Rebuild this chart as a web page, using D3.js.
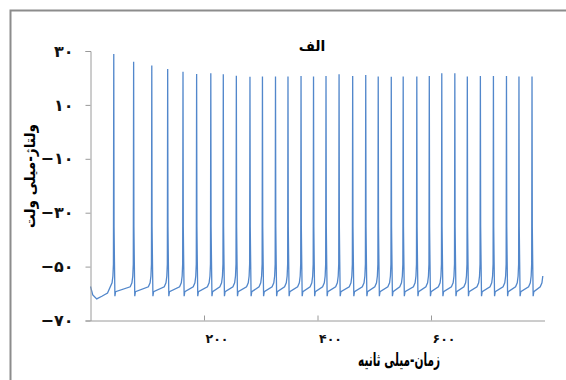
<!DOCTYPE html>
<html>
<head>
<meta charset="utf-8">
<script src="https://cdn.jsdelivr.net/npm/d3@7"></script>
<style>
  body { margin: 0; background: #fff; }
  svg { display: block; font-family: "DejaVu Sans", sans-serif; }
</style>
</head>
<body>
<svg class="chart" width="566" height="380"></svg>
<script>
// Values (time in ms, voltage in mV)
var spikeTimes = [41, 76, 108, 136, 163, 187, 212, 234, 257, 281, 303, 326, 348, 371, 393, 415,
                  438, 462, 485, 507, 530, 551, 575, 597, 619, 642, 664, 687, 710, 733, 755, 778];
var spikePeaks = [28.9, 26, 24.6, 23.3, 22.3, 21.5, 21.7, 21.4, 20.8, 20.4, 20.5, 20.5, 20.5, 20.7, 20.5, 20.7,
                  21.4, 20.7, 21.1, 20.5, 20.4, 20.5, 20.5, 20.7, 21.7, 21.7, 20.5, 20.7, 20.7, 20.7, 20.5, 20.5];
var troughs = [-61, -61, -61, -61, -61, -61, -61, -61, -61, -61, -61, -61, -61, -61, -61, -61,
               -61, -61, -61, -61, -61, -61, -61, -61, -61, -61, -61, -61, -61, -61, -61, -61];
// trace before the first spike
var startTimes = [0, 4, 11, 20, 30];
var startVolts = [-57.4, -60.5, -62, -61, -59.8];
// shape around each spike, as offsets from the spike time
var riseOffsets = [-6, -3, -1.5, -0.6];
var riseVolts = [-57.5, -56, -53.5, -49];
var fallOffsets = [0.5, 1.2, 2, 3.2];
var fallVolts = [-35, -48, null, -59.3]; // null = the trough of that spike
var endTime = 797;

var yTicks = [-70, -50, -30, -10, 10, 30];
var yTickLabels = ["\u2212۷۰", "\u2212۵۰", "\u2212۳۰", "\u2212۱۰", "۱۰", "۳۰"];
var xTicks = [200, 400, 600];
var xTickLabels = ["۲۰۰", "۴۰۰", "۶۰۰"];

var svg = d3.select(".chart");

// Frame around the figure
svg.append("rect")
    .attr("x", 10.5).attr("y", 10.5)
    .attr("width", 600).attr("height", 400)
    .attr("fill", "none")
    .attr("stroke", "#8c8c8c")
    .attr("stroke-width", 2);

var x = d3.scaleLinear().domain([0, 800]).range([90.5, 544.5]),
    y = d3.scaleLinear().domain([-70, 30]).range([320.5, 51]);

// Build the trace from the read values
var trace = [];
startTimes.forEach(function(t, i) { trace.push([t, startVolts[i]]); });
spikeTimes.forEach(function(t, i) {
    if (i > 0) {
        riseOffsets.forEach(function(dt, k) { trace.push([t + dt, riseVolts[k]]); });
    } else {
        riseOffsets.slice(1).forEach(function(dt, k) { trace.push([t + dt, riseVolts[k + 1]]); });
    }
    trace.push([t, spikePeaks[i]]);
    fallOffsets.forEach(function(dt, k) {
        trace.push([t + dt, fallVolts[k] === null ? troughs[i] : fallVolts[k]]);
    });
});
riseOffsets.slice(0, 3).forEach(function(dt, k) { trace.push([endTime + 1.5 + dt, riseVolts[k]]); });

var line = d3.line()
    .x(function(d) { return x(d[0]); })
    .y(function(d) { return y(d[1]); });

svg.append("path")
    .datum(trace)
    .attr("fill", "none")
    .attr("stroke", "#5287cb")
    .attr("stroke-width", 1.3)
    .attr("d", line);

// Axes
var yAxis = svg.append("g")
    .attr("transform", "translate(90.5,0)")
    .call(d3.axisLeft(y).tickValues(yTicks).tickSize(5).tickPadding(12)
        .tickFormat(function(d, i) { return yTickLabels[i]; }));

var xAxis = svg.append("g")
    .attr("transform", "translate(0,320.5)")
    .call(d3.axisBottom(x).tickValues(xTicks).tickSizeInner(-5).tickSizeOuter(0).tickPadding(14)
        .tickFormat(function(d, i) { return xTickLabels[i]; }));

svg.selectAll(".domain, .tick line").attr("stroke", "#9a9a9a");
svg.selectAll(".tick text")
    .attr("fill", "#111")
    .attr("font-family", "DejaVu Sans")
    .attr("font-weight", "bold")
    .attr("direction", "ltr");
yAxis.selectAll(".tick text").attr("font-size", 16);
xAxis.selectAll(".tick text").attr("font-size", 12.5).attr("text-anchor", "start").attr("dx", 1);

// Title and axis labels
svg.append("text")
    .attr("x", 312).attr("y", 51)
    .attr("text-anchor", "middle")
    .attr("font-weight", "bold")
    .attr("font-size", 14)
    .text("الف");

svg.append("text")
    .attr("transform", "translate(" + 399 + "," + 366 + ")")
    .attr("text-anchor", "middle")
    .attr("font-weight", "bold")
    .attr("font-size", 18)
    .attr("textLength", 82)
    .attr("lengthAdjust", "spacingAndGlyphs")
    .text("زمان-میلی ثانیه");

svg.append("text")
    .attr("transform", "translate(" + 35 + "," + 176 + ") rotate(-90)")
    .attr("text-anchor", "middle")
    .attr("font-weight", "bold")
    .attr("font-size", 15)
    .attr("textLength", 104)
    .attr("lengthAdjust", "spacingAndGlyphs")
    .text("ولتاژ-میلی ولت");
</script>
</body>
</html>
